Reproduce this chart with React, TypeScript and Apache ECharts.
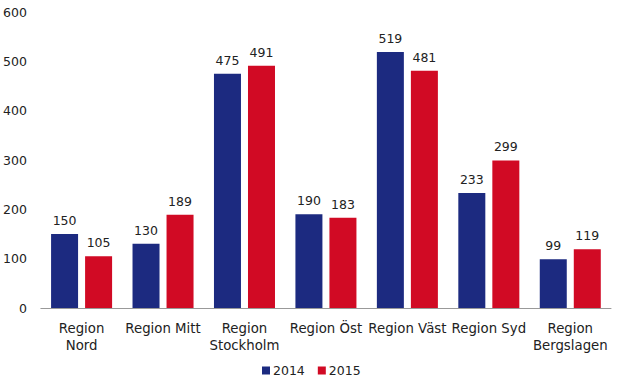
import React, { useEffect, useRef } from "react";
import * as echarts from "echarts";

const categories = ["Region\nNord", "Region Mitt", "Region\nStockholm", "Region Öst", "Region Väst", "Region Syd", "Region\nBergslagen"];
const values2014 = [150, 130, 475, 190, 519, 233, 99];
const values2015 = [105, 189, 491, 183, 481, 299, 119];
const yTicks = { min: 0, max: 600, interval: 100 };

const FONT = "DejaVu Sans";

export default function App() {
  const ref = useRef<HTMLDivElement>(null);
  useEffect(() => {
    document.body.style.margin = "0";
    if (!ref.current) return;
    const chart = echarts.init(ref.current, undefined, { renderer: "svg" });
    const label = { show: true, position: "top", color: "#222", fontFamily: FONT, fontSize: 12.5, distance: 7 };
    chart.setOption({
      animation: false,
      textStyle: { fontFamily: FONT },
      grid: { left: 40, right: 8, top: 12, bottom: 78 },
      legend: {
        bottom: 4,
        left: 257,
        itemWidth: 8,
        itemHeight: 8,
        itemGap: 13,
        icon: "rect",
        textStyle: { fontFamily: FONT, fontSize: 12.5, color: "#222", padding: [0, 0, 0, -2] },
        data: ["2014", "2015"],
      },
      xAxis: {
        type: "category",
        data: categories,
        axisLine: { lineStyle: { color: "#999" } },
        axisTick: { show: false },
        axisLabel: { color: "#222", fontFamily: FONT, fontSize: 13.3, interval: 0, margin: 12, lineHeight: 17, overflow: "none" },
      },
      yAxis: {
        type: "value",
        min: yTicks.min,
        max: yTicks.max,
        interval: yTicks.interval,
        splitLine: { show: false },
        axisLine: { show: false },
        axisTick: { show: false },
        axisLabel: { color: "#222", fontFamily: FONT, fontSize: 12.5, margin: 14 },
      },
      series: [
        { name: "2014", type: "bar", data: values2014, barWidth: 27, barGap: "26%", itemStyle: { color: "#1c2a80" }, label },
        { name: "2015", type: "bar", data: values2015, barWidth: 27, itemStyle: { color: "#d10a24" }, label },
      ],
    });
    return () => chart.dispose();
  }, []);
  return <div ref={ref} style={{ width: 619, height: 386 }} />;
}
